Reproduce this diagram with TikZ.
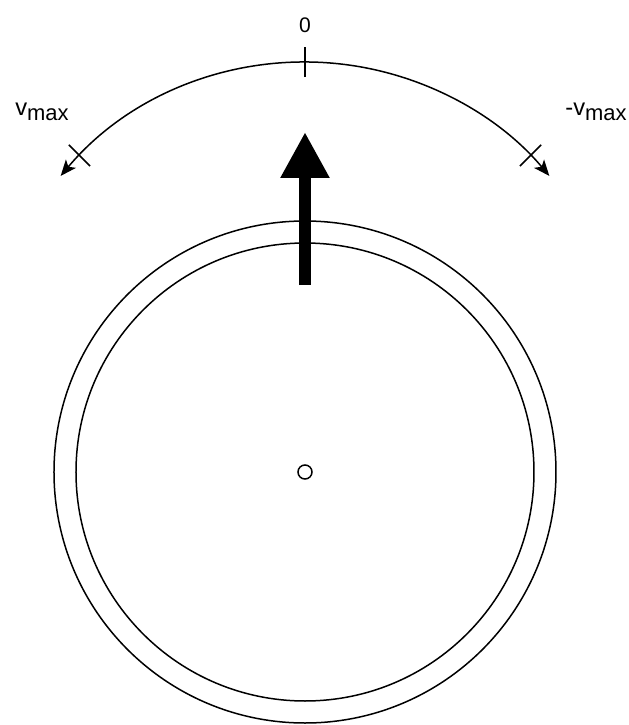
\documentclass[tikz,border=0pt]{standalone}
\usepackage{fontspec}
\setmainfont{Liberation Sans}
\usetikzlibrary{arrows.meta,calc}
\tikzset{
  rim/.style={line width=0.03cm,black},
  scalearc/.style={line width=0.03cm,{Stealth[length=0.32cm,width=0.26cm,inset=0.08cm]}-{Stealth[length=0.32cm,width=0.26cm,inset=0.08cm]}},
  scaletick/.style={line width=0.03cm},
  pointer/.style={-{Triangle[length=0.92cm,width=0.92cm]},line width=0.24cm},
  scalelabel/.style={font=\fontsize{13.5}{15}\selectfont,inner sep=0pt}
}
\newcommand{\vmaxlabel}{v\raisebox{-0.45ex}{\fontsize{12.5}{14}\selectfont max}}

\begin{document}
\begin{tikzpicture}[x={(0.02cm,0cm)}, y={(0cm,0.02cm)}]
  \useasboundingbox (-305,-253) rectangle (324,472);
  \coordinate (C) at (0,0);
  \coordinate (A) at (0,91);
  \coordinate (tail) at (0,187);
  \coordinate (tip) at (0,340);
  % wheel
  \draw[rim] (C) circle[radius=251];
  \draw[rim] (C) circle[radius=229];
  \draw[rim] (C) circle[radius=7];
  % scale
  \draw[scalearc] ($(A)+(140:319)$) arc[start angle=140,end angle=40,radius=319];
  \foreach \a in {45,90,135}
    \draw[scaletick] ($(A)+(\a:304)$) -- ($(A)+(\a:334)$);
  \node[scalelabel,font=\fontsize{12}{14}\selectfont] (zero) at (0,447) {0};
  \node[scalelabel] (vmaxleft) at (-263,360) {\vmaxlabel};
  \node[scalelabel] (vmaxright) at (291,360) {-\vmaxlabel};
  % pointer
  \draw[pointer] (tail) -- (tip);
\end{tikzpicture}
\end{document}
